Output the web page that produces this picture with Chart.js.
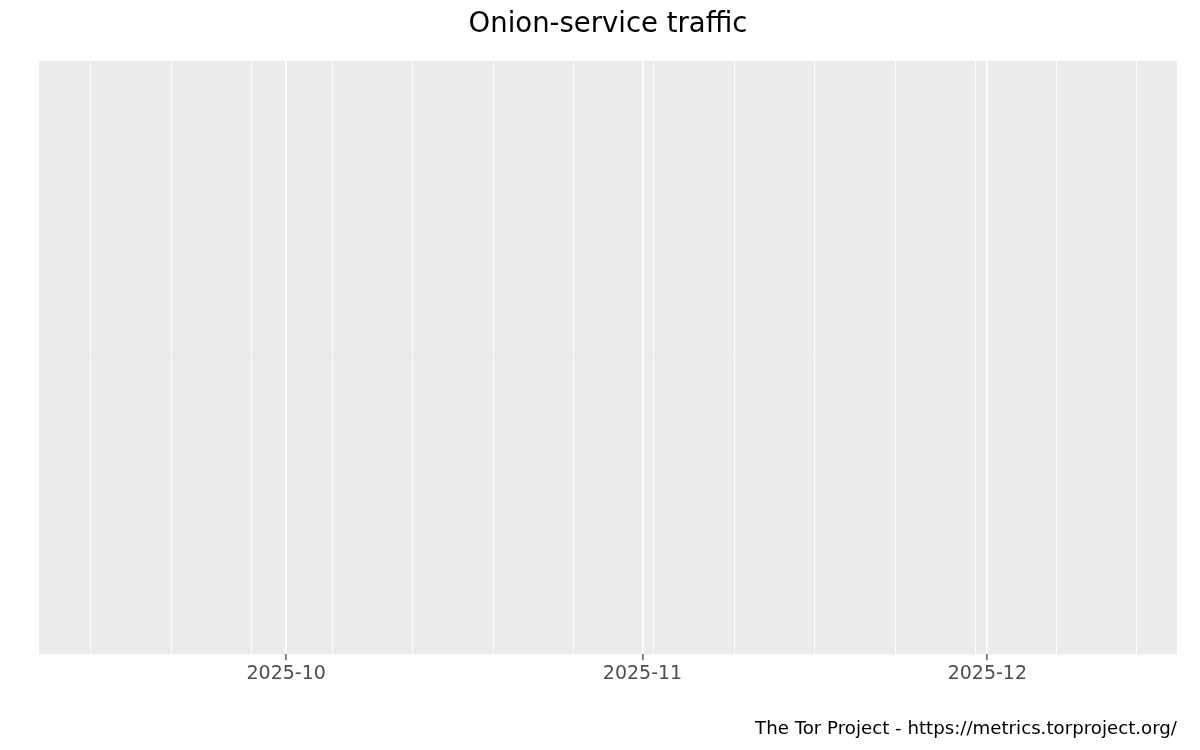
<!doctype html>
<html>

<head>
	<title>Onion-service traffic</title>
	<script src="https://cdn.jsdelivr.net/npm/chart.js@4"></script>
	<style>
		body {
			margin: 0;
			background: #ffffff;
		}

		#canvas-holder {
			width: 1200px;
			height: 750px;
		}
	</style>
</head>

<body>
	<div id="canvas-holder">
		<canvas id="chart-area"></canvas>
	</div>
	<script>
		// the reference shows an empty panel: no measurements in the period
		var trafficDates = [];
		var trafficValues = [];

		var dataStart = '2025-09-14';
		var dataEnd = '2025-12-13';

		var majorBreaks = ['2025-10-01', '2025-11-01', '2025-12-01'];
		var majorLabels = ['2025-10', '2025-11', '2025-12'];
		var minorBreaks = [
			'2025-09-14', '2025-09-21', '2025-09-28', '2025-10-05', '2025-10-12',
			'2025-10-19', '2025-10-26', '2025-11-02', '2025-11-09', '2025-11-16',
			'2025-11-23', '2025-11-30', '2025-12-07', '2025-12-14'
		];

		var toDay = function (s) {
			var p = s.split('-');
			return Date.UTC(+p[0], +p[1] - 1, +p[2]) / 86400000;
		};

		var majorDays = majorBreaks.map(toDay);
		var minorDays = minorBreaks.map(toDay);
		var isMajor = function (v) {
			return majorDays.indexOf(v) !== -1;
		};

		// ggplot-style 5% expansion on both sides
		var d0 = toDay(dataStart), d1 = toDay(dataEnd);
		var pad = (d1 - d0) * 0.05;

		var panelBackground = {
			id: 'panelBackground',
			beforeDraw: function (chart) {
				var a = chart.chartArea;
				var ctx = chart.ctx;
				ctx.save();
				ctx.fillStyle = '#ffffff';
				ctx.fillRect(0, 0, chart.width, chart.height);
				ctx.fillStyle = '#EBEBEB';
				ctx.fillRect(a.left, a.top, a.right - a.left, a.bottom - a.top);
				ctx.restore();
			}
		};

		Chart.defaults.font.family = "'DejaVu Sans', sans-serif";

		var config = {
			type: 'line',
			data: {
				datasets: [{
					label: 'Onion-service traffic',
					data: trafficDates.map(function (d, i) {
						return { x: toDay(d), y: trafficValues[i] };
					}),
					borderColor: '#000000',
					pointRadius: 0
				}]
			},
			plugins: [panelBackground],
			options: {
				responsive: true,
				maintainAspectRatio: false,
				animation: false,
				devicePixelRatio: 1,
				layout: {
					padding: { left: 39, right: 23, top: 0, bottom: 0 }
				},
				plugins: {
					legend: { display: false },
					tooltip: { enabled: false },
					title: {
						display: true,
						text: 'Onion-service traffic',
						color: '#000000',
						font: { size: 27.5, weight: 'normal' },
						padding: { top: 8.5, bottom: 19.5 }
					},
					subtitle: {
						display: true,
						position: 'bottom',
						align: 'end',
						text: 'The Tor Project - https://metrics.torproject.org/',
						color: '#000000',
						font: { size: 18.2 },
						padding: { top: 31, bottom: 10 }
					}
				},
				scales: {
					x: {
						type: 'linear',
						min: d0 - pad,
						max: d1 + pad,
						afterBuildTicks: function (scale) {
							scale.ticks = minorDays.concat(majorDays)
								.sort(function (a, b) { return a - b; })
								.map(function (v) { return { value: v }; });
						},
						ticks: {
							autoSkip: false,
							maxRotation: 0,
							color: '#4D4D4D',
							font: { size: 19 },
							padding: 2,
							callback: function (v) {
								var i = majorDays.indexOf(v);
								return i === -1 ? '' : majorLabels[i];
							}
						},
						grid: {
							color: '#ffffff',
							lineWidth: function (ctx) {
								return ctx.tick && isMajor(ctx.tick.value) ? 1.8 : 0.9;
							},
							tickColor: function (ctx) {
								return ctx.tick && isMajor(ctx.tick.value) ? '#333333' : 'rgba(0,0,0,0)';
							},
							tickLength: 6,
							tickWidth: 1.2
						},
						border: { display: false }
					},
					y: {
						display: false,
						min: 0,
						max: 1
					}
				}
			}
		};

		window.onload = function () {
			var ctx = document.getElementById('chart-area').getContext('2d');
			window.myChart = new Chart(ctx, config);
		};
	</script>
</body>

</html>
